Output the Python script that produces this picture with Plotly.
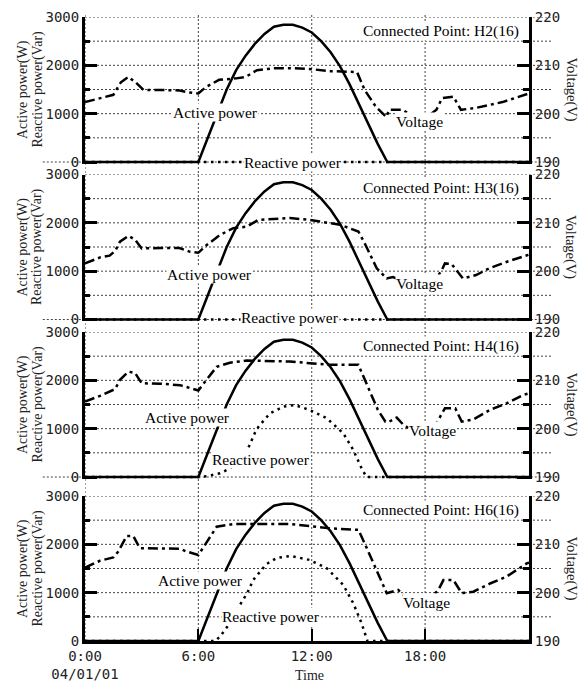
import plotly.graph_objects as go

# ---------------- data ----------------
panel_names = ["Connected Point: H2(16)", "Connected Point: H3(16)",
               "Connected Point: H4(16)", "Connected Point: H6(16)"]

# active power (W), identical PV output in all four panels
active_t = [0, 6, 6.5, 7, 7.5, 8, 8.5, 9, 9.5, 10, 10.5, 11, 11.5, 12, 12.5,
            13, 13.5, 14, 14.5, 15, 15.5, 16, 23.5]
active_p = [0, 0, 500, 1000, 1500, 1900, 2200, 2450, 2650, 2800, 2840, 2840,
            2780, 2680, 2500, 2270, 1980, 1610, 1200, 790, 370, 0, 0]

# voltage (V)
volt_h2_t = [0, 0.8, 1.5, 1.9, 2.3, 2.7, 3.1, 4.0, 5.0, 5.5, 6.0, 6.4, 7.1, 8.0,
             8.5, 9.1, 10.0, 11.0, 12.0, 13.0, 14.4, 14.8, 15.4, 15.95, 16.1,
             16.8, 17.3, 18.2, 18.6, 18.9, 19.5, 19.9, 20.7, 22.1, 23.2, 23.5]
volt_h2 = [202.4, 203.2, 203.9, 206.5, 207.6, 206.4, 204.9, 204.9, 204.8, 204.4,
           204.2, 205.5, 207.0, 207.3, 207.6, 209.0, 209.4, 209.4, 209.2, 208.8,
           208.6, 204.9, 201.4, 199.3, 200.8, 200.8, 199.6, 199.6, 200.8, 203.2,
           203.5, 200.8, 201.2, 202.4, 203.9, 204.2]

volt_h3_t = [0, 0.8, 1.3, 1.6, 1.85, 2.3, 2.65, 3.0, 4.0, 5.0, 5.56, 6.0, 6.44,
             7.15, 7.85, 8.56, 9.17, 10.1, 10.85, 11.9, 12.6, 13.5, 14.47, 14.8,
             15.44, 15.97, 16.3, 16.8, 18.5, 18.88, 19.05, 19.4, 20.0, 20.7,
             21.4, 22.3, 23.4, 23.5]
volt_h3 = [201.6, 202.85, 203.2, 204.2, 206.1, 207.3, 206.5, 204.7, 204.8, 204.8,
           204.0, 203.8, 205.4, 207.5, 208.9, 209.2, 210.6, 210.8, 211.0, 210.6,
           210.1, 209.6, 208.2, 205.8, 200.6, 198.5, 198.8, 198.0, 198.0, 200.2,
           201.6, 201.5, 198.5, 199.2, 200.6, 201.9, 203.3, 203.4]

volt_h4_t = [0, 0.8, 1.6, 1.85, 2.3, 2.65, 3.0, 4.0, 5.03, 5.56, 6.0, 6.35, 6.97,
             7.67, 8.56, 10.85, 12.97, 14.47, 14.8, 15.5, 15.9, 16.1, 16.5,
             16.85, 17.3, 18.4, 18.8, 19.05, 19.6, 19.94, 20.55, 21.44, 22.3,
             23.2, 23.5]
volt_h4 = [205.6, 206.8, 208.2, 210.1, 211.8, 211.5, 209.4, 209.3, 209.0, 208.35,
           207.9, 209.7, 212.8, 213.65, 214.1, 213.9, 213.2, 213.2, 210.1, 203.9,
           201.45, 201.45, 202.3, 200.8, 199.7, 199.7, 202.5, 204.2, 204.2,
           201.45, 201.9, 203.9, 205.2, 207.0, 207.3]

volt_h6_t = [0, 0.79, 1.5, 1.76, 2.2, 2.56, 2.9, 4.0, 5.03, 5.38, 6.0, 6.35,
             6.97, 7.85, 10.85, 12.97, 14.47, 14.8, 15.44, 15.97, 16.58, 17.0,
             18.3, 18.7, 18.97, 19.5, 19.94, 20.55, 21.44, 22.3, 23.4, 23.5]
volt_h6 = [205.2, 206.6, 207.3, 208.5, 211.7, 211.7, 209.2, 209.2, 209.1, 208.5,
           207.8, 209.9, 213.65, 214.2, 214.2, 213.3, 213.0, 210.2, 204.7, 199.9,
           200.55, 199.0, 199.0, 200.55, 202.6, 202.6, 199.9, 200.2, 201.9,
           203.3, 206.1, 206.2]

# reactive power (Var)
react_h2_t = [0, 23.5]
react_h2 = [0, 0]
react_h3_t = [0, 23.5]
react_h3 = [0, 0]
react_h4_t = [0, 6.0, 6.5, 7.14, 7.67, 8.1, 8.4, 8.7, 9.0, 9.2, 9.79, 10.5, 11.1,
              11.9, 12.8, 13.67, 14.2, 14.64, 14.9, 23.5]
react_h4 = [0, 0, 20, 76, 175, 330, 430, 650, 920, 1050, 1317, 1455, 1490, 1386,
            1214, 904, 559, 180, 0, 0]
react_h6_t = [0, 6.9, 7.14, 7.6, 8.0, 8.3, 8.6, 8.9, 9.6, 10.15, 10.9, 11.9, 12.8,
              13.67, 14.2, 14.64, 14.95, 23.5]
react_h6 = [0, 0, 90, 330, 620, 813, 1000, 1262, 1590, 1720, 1760, 1676, 1504,
            1159, 780, 366, 0, 0]

volt_t = [volt_h2_t, volt_h3_t, volt_h4_t, volt_h6_t]
volt_v = [volt_h2, volt_h3, volt_h4, volt_h6]
react_t = [react_h2_t, react_h3_t, react_h4_t, react_h6_t]
react_q = [react_h2, react_h3, react_h4, react_h6]

power_ticks = [0, 1000, 2000, 3000]
power_minor = [500, 1500, 2500]
power_grid = [500, 1000, 1500, 2000, 2500, 3000]
volt_ticks = [190, 200, 210, 220]
volt_minor = [195, 205, 215]
time_tickvals = [0, 6, 12, 18]
time_ticktext = ["0:00<br>04/01/01", "6:00", "12:00", "18:00"]

# label placements (time, power-axis value)
active_label = [(6.93, 1014), (6.6, 931), (5.42, 1241), (6.13, 1262)]
react_label = [(11.0, 0), (10.85, 40), (9.32, 352), (9.84, 517)]
volt_label = [(17.73, 834), (17.73, 744), (18.39, 972), (18.05, 793)]

# ---------------- layout geometry ----------------
W, H = 581, 684
ML, MR, MT, MB = 85, 52, 15, 43
PLOT_H = H - MT - MB
BOTTOM = H - MB
panel_px = [(17, 162), (174.5, 319.5), (332, 477), (496, 641)]  # px of 3000 and 0
pad = [40, 40, 40, 0]

SERIF = "Liberation Serif"
TICKF = dict(family="DejaVu Sans Mono", size=14, color="#222")
TXT = dict(family=SERIF, size=15.5, color="black")

fig = go.Figure()
layout = dict(
    width=W, height=H,
    margin=dict(l=ML, r=MR, t=MT, b=MB, autoexpand=False),
    paper_bgcolor="white", plot_bgcolor="white",
    showlegend=False,
    xaxis=dict(range=[0, 23.5], domain=[0, 1], anchor="y4", automargin=False,
               tickmode="array", tickvals=time_tickvals, ticktext=time_ticktext,
               ticks="inside", ticklen=12, tickwidth=2, tickcolor="black",
               showline=True, linewidth=3, linecolor="black",
               showgrid=False, zeroline=False, tickfont=TICKF),
)
shapes = []
annotations = []

for i in range(4):
    top_px, zero_px = panel_px[i]
    per = (zero_px - top_px) / 3000.0
    bot_px = zero_px + pad[i] * per
    dom = [(BOTTOM - bot_px) / PLOT_H, (BOTTOM - top_px) / PLOT_H]
    ln = "" if i == 0 else str(i + 1)
    rn = str(i + 5)
    layout["yaxis" + ln] = dict(
        domain=dom, range=[-pad[i], 3000], anchor="x", automargin=False,
        tickmode="array", tickvals=power_ticks,
        ticks="inside", ticklen=12, tickwidth=3, tickcolor="black",
        minor=dict(tickmode="array", tickvals=power_minor, ticks="inside",
                   ticklen=5, tickwidth=3, tickcolor="black", showgrid=False),
        showline=True, linewidth=3, linecolor="black",
        showgrid=False, zeroline=False, tickfont=TICKF)
    layout["yaxis" + rn] = dict(
        overlaying="y" + ln, side="right", anchor="x", automargin=False,
        range=[190 - pad[i] / 100.0, 220],
        tickmode="array", tickvals=volt_ticks,
        ticks="inside", ticklen=12, tickwidth=3, tickcolor="black",
        minor=dict(tickmode="array", tickvals=volt_minor, ticks="inside",
                   ticklen=6, tickwidth=3, tickcolor="black", showgrid=False),
        showline=True, linewidth=3, linecolor="black",
        showgrid=False, zeroline=False, tickfont=TICKF)

    ya = "y" + ln
    yb = "y" + rn
    fig.add_trace(go.Scatter(x=react_t[i], y=react_q[i], mode="lines",
                             xaxis="x", yaxis=ya,
                             line=dict(color="black", width=2.5, dash="2.5px,4.5px")))
    fig.add_trace(go.Scatter(x=volt_t[i], y=volt_v[i], mode="lines",
                             xaxis="x", yaxis=yb,
                             line=dict(color="black", width=2.5, dash="10px,4px,3px,4px")))
    fig.add_trace(go.Scatter(x=active_t, y=active_p, mode="lines",
                             xaxis="x", yaxis=ya,
                             line=dict(color="black", width=2.5)))

    # dotted grid lines extending past the right axis
    for g in power_grid:
        shapes.append(dict(type="line", xref="paper", yref=ya, x0=0, x1=1.052,
                           y0=g, y1=g, layer="below",
                           line=dict(color="#444", width=1, dash="2px,2px")))
    if i < 3:
        shapes.append(dict(type="line", xref="paper", yref=ya, x0=-0.095, x1=1.052,
                           y0=0, y1=0, layer="below",
                           line=dict(color="#444", width=1, dash="2px,2px")))

    # text labels
    annotations.append(dict(text=panel_names[i], xref="paper", yref=ya,
                            x=0.98, y=2720, xanchor="right", yanchor="middle",
                            showarrow=False, font=TXT, bgcolor="white", borderpad=0))
    for (lt, lv), txt in ((active_label[i], "Active power"),
                          (react_label[i], "Reactive power"),
                          (volt_label[i], "Voltage")):
        annotations.append(dict(text=txt, xref="x", yref=ya, x=lt, y=lv,
                                xanchor="center", yanchor="middle", showarrow=False,
                                font=TXT, bgcolor="white", borderpad=0))
    # axis titles
    annotations.append(dict(text="Active power(W)", xref="paper", yref=ya,
                            x=(22.5 - ML) / 444.0, y=1500, textangle=-90,
                            xanchor="center", yanchor="middle",
                            showarrow=False, font=dict(family=SERIF, size=14, color="#222")))
    annotations.append(dict(text="Reactive power(Var)", xref="paper", yref=ya,
                            x=(37 - ML) / 444.0, y=1500, textangle=-90,
                            xanchor="center", yanchor="middle",
                            showarrow=False, font=dict(family=SERIF, size=14, color="#222")))
    annotations.append(dict(text="Voltage(V)", xref="paper", yref=ya,
                            x=(571 - ML) / 444.0, y=1500, textangle=90,
                            xanchor="center", yanchor="middle",
                            showarrow=False, font=dict(family=SERIF, size=14.5, color="#222")))

# vertical dotted grid lines spanning all panels
for vt in [0, 6, 12, 18]:
    shapes.append(dict(type="line", xref="x", yref="paper", x0=vt, x1=vt,
                       y0=0, y1=(BOTTOM - 14) / PLOT_H, layer="below",
                       line=dict(color="#444", width=1, dash="2px,2px")))

annotations.append(dict(text="Time", xref="paper", yref="paper", x=0.505,
                        y=-(675 - BOTTOM) / PLOT_H, xanchor="center", yanchor="middle",
                        showarrow=False, font=dict(family=SERIF, size=14, color="#222")))

layout["shapes"] = shapes
layout["annotations"] = annotations
fig.update_layout(**layout)
fig.write_html("out.html", config={"displayModeBar": False},
               post_script="document.body.style.margin='0px';"
                           "document.body.style.padding='0px';"
                           "document.body.style.overflow='hidden';")
